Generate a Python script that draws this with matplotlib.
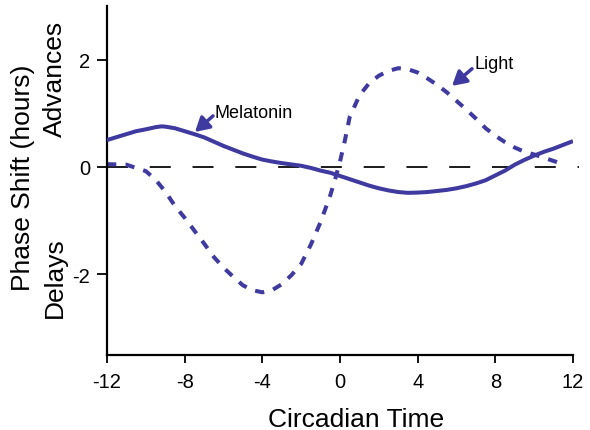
import numpy as np
import matplotlib
matplotlib.use("Agg")
import matplotlib.pyplot as plt

plt.rcParams['font.family'] = ['Liberation Sans', 'DejaVu Sans']

# data
mel_x = [-12, -11.5, -11, -10.5, -10, -9.5, -9.2, -9, -8.5, -8, -7.5, -7, -6.5,
         -6, -5.5, -5, -4.5, -4, -3.5, -3, -2.5, -2, -1.5, -1, -0.5, 0, 0.5,
         1, 1.5, 2, 2.5, 3, 3.5, 4, 4.5, 5, 5.5, 6, 6.5, 7, 7.5, 8, 8.5, 9,
         9.5, 10, 10.5, 11, 11.5, 12]
mel_y = [0.50, 0.555, 0.61, 0.665, 0.70, 0.74, 0.755, 0.75, 0.72, 0.665, 0.61,
         0.55, 0.47, 0.39, 0.32, 0.25, 0.19, 0.135, 0.10, 0.07, 0.045, 0.02,
         -0.02, -0.07, -0.11, -0.17, -0.23, -0.29, -0.35, -0.40, -0.44, -0.47,
         -0.485, -0.48, -0.47, -0.45, -0.43, -0.40, -0.36, -0.31, -0.25, -0.16,
         -0.07, 0.04, 0.13, 0.21, 0.28, 0.34, 0.41, 0.48]

light_x = [-12, -11, -10, -9.5, -9, -8.5, -8, -7.5, -7, -6.5, -6, -5.5, -5, -4.5,
           -4, -3.5, -3, -2.5, -2, -1.5, -1, -0.5, -0.25, 0, 0.25, 0.5, 1, 1.5,
           2, 2.5, 3, 3.5, 4, 4.5, 5, 5.5, 6, 6.5, 7, 7.5, 8, 8.5, 9, 9.5, 10,
           10.5, 11, 11.4]
light_y = [0.05, 0.04, -0.08, -0.24, -0.46, -0.73, -0.95, -1.19, -1.43, -1.68,
           -1.88, -2.05, -2.21, -2.30, -2.34, -2.30, -2.19, -2.02, -1.81, -1.45,
           -1.03, -0.53, -0.23, 0.10, 0.49, 0.93, 1.33, 1.56, 1.70, 1.79, 1.84,
           1.82, 1.76, 1.65, 1.53, 1.39, 1.23, 1.07, 0.90, 0.72, 0.58, 0.46,
           0.36, 0.28, 0.23, 0.17, 0.11, 0.06]

xticks = [-12, -8, -4, 0, 4, 8, 12]
yticks = [-2, 0, 2]

col = '#3f3a9f'

fig = plt.figure(figsize=(5.9, 4.31), dpi=100)
ax = fig.add_axes([107 / 590, 75.5 / 431, 466 / 590, 348.5 / 431])

# zero reference line
ax.plot([-12, 12.3], [0, 0], color='#1a1a1a', lw=1.4, dashes=(10.8, 11.2),
        clip_on=False, zorder=1)

ax.plot(light_x, light_y, color=col, lw=2.9, dashes=(2.3, 2.3), zorder=2)
ax.plot(mel_x, mel_y, color=col, lw=2.9, solid_capstyle='butt',
        solid_joinstyle='round', zorder=3)

ax.set_xlim(-12, 12)
ax.set_ylim(-3.5, 3.0)
ax.set_xticks(xticks)
ax.set_xticklabels([str(t) for t in xticks])
ax.set_yticks(yticks)
ax.set_yticklabels([str(t) for t in yticks])

for s in ['top', 'right']:
    ax.spines[s].set_visible(False)
for s in ['left', 'bottom']:
    ax.spines[s].set_linewidth(1.6)
ax.tick_params(axis='x', direction='out', length=5.8, width=1.3, pad=7, labelsize=14.5)
ax.tick_params(axis='y', direction='out', length=7.2, width=1.3, pad=5, labelsize=14.5)

# annotations
arr = dict(arrowstyle='-|>,head_length=0.7,head_width=0.4', color=col, lw=2.5,
           mutation_scale=12, shrinkA=0, shrinkB=0)
ax.annotate('', xy=(-7.47, 0.65), xytext=(-6.54, 0.95), arrowprops=arr)
ax.text(-6.44, 1.02, 'Melatonin', fontsize=13, ha='left', va='center')
ax.annotate('', xy=(5.77, 1.51), xytext=(6.8, 1.83), arrowprops=arr)
ax.text(6.95, 1.92, 'Light', fontsize=13, ha='left', va='center')

# axis labels
fig.text(356.5 / 590, 1 - 427 / 431, 'Circadian Time', fontsize=19,
         ha='center', va='baseline')
fig.text(23 / 590, 1 - 178 / 431, 'Phase Shift (hours)', fontsize=19,
         rotation=90, ha='center', va='center')
fig.text(55 / 590, 1 - 78.5 / 431, 'Advances', fontsize=19,
         rotation=90, ha='center', va='center')
fig.text(55 / 590, 1 - 278 / 431, 'Delays', fontsize=19,
         rotation=90, ha='center', va='center')

fig.savefig('out.png', dpi=100)
